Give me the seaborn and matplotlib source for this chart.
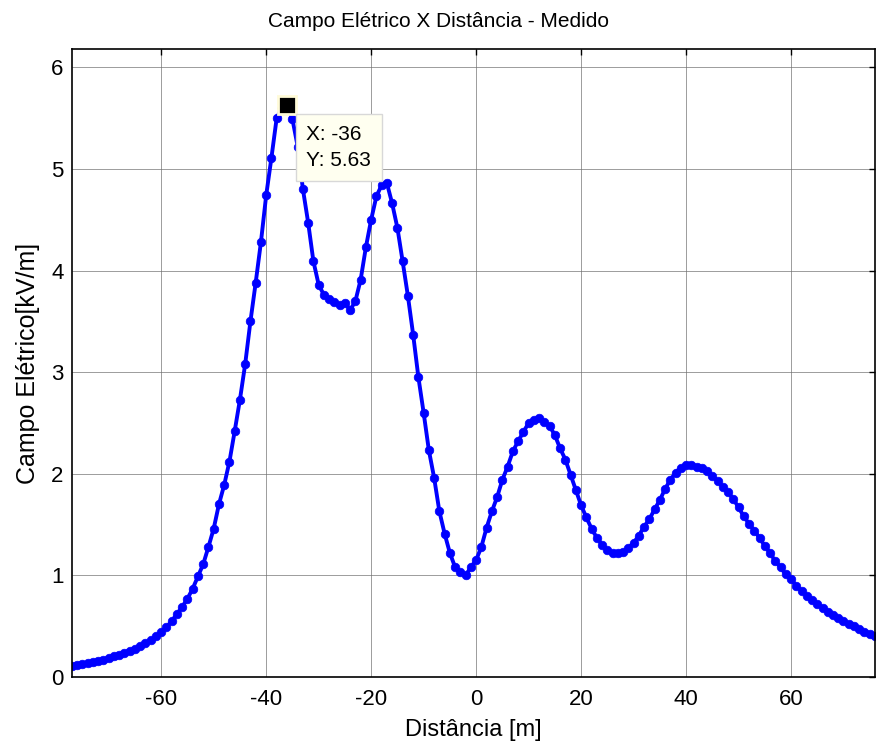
import numpy as np
import pandas as pd
import seaborn as sns
import matplotlib.pyplot as plt

# Measured electric field profile along the transverse distance
distancia = list(range(-77, 77))
campo = [
    0.11, 0.12, 0.13, 0.14, 0.15, 0.16, 0.17, 0.19, 0.21, 0.22,   # -77 .. -68
    0.24, 0.26, 0.28, 0.30, 0.33, 0.36, 0.40, 0.44, 0.49, 0.55,   # -67 .. -58
    0.62, 0.69, 0.77, 0.87, 0.99, 1.11, 1.28, 1.46, 1.70, 1.89,   # -57 .. -48
    2.12, 2.42, 2.73, 3.08, 3.50, 3.88, 4.28, 4.74, 5.11, 5.50,   # -47 .. -38
    5.60, 5.63, 5.49, 5.22, 4.80, 4.47, 4.09, 3.86, 3.76, 3.72,   # -37 .. -28
    3.69, 3.66, 3.68, 3.61, 3.70, 3.91, 4.23, 4.50, 4.73, 4.84,   # -27 .. -18
    4.86, 4.66, 4.42, 4.09, 3.75, 3.37, 2.95, 2.60, 2.23, 1.96,   # -17 .. -8
    1.63, 1.41, 1.22, 1.08, 1.03, 1.00, 1.08, 1.15, 1.28, 1.47,   # -7 .. 2
    1.63, 1.77, 1.94, 2.07, 2.22, 2.32, 2.41, 2.50, 2.53, 2.55,   # 3 .. 12
    2.51, 2.47, 2.38, 2.25, 2.14, 1.99, 1.84, 1.69, 1.57, 1.46,   # 13 .. 22
    1.37, 1.30, 1.25, 1.22, 1.22, 1.23, 1.27, 1.32, 1.39, 1.48,   # 23 .. 32
    1.55, 1.65, 1.74, 1.85, 1.94, 2.01, 2.06, 2.09, 2.09, 2.07,   # 33 .. 42
    2.06, 2.03, 1.98, 1.93, 1.87, 1.82, 1.75, 1.67, 1.58, 1.51,   # 43 .. 52
    1.44, 1.37, 1.29, 1.22, 1.14, 1.08, 1.01, 0.96, 0.90, 0.85,   # 53 .. 62
    0.80, 0.76, 0.72, 0.68, 0.64, 0.61, 0.58, 0.55, 0.52, 0.50,   # 63 .. 72
    0.47, 0.44, 0.42, 0.40,                                       # 73 .. 76
]
x_ticks = [-60, -40, -20, 0, 20, 40, 60]
y_ticks = [0, 1, 2, 3, 4, 5, 6]
tip_x, tip_y = -36, 5.63

df = pd.DataFrame({"Distância": distancia, "Campo": campo})

sns.set_style("white")
plt.rcParams["font.family"] = ["Liberation Sans", "DejaVu Sans"]
plt.rcParams["axes.unicode_minus"] = False
plt.rcParams["text.color"] = "black"
plt.rcParams["axes.labelcolor"] = "black"

fig = plt.figure(figsize=(8.77, 7.41), dpi=100)
ax = fig.add_axes([0.0821, 0.0864, 0.9156, 0.8475])

sns.lineplot(data=df, x="Distância", y="Campo", ax=ax, color="#0000ff",
             linewidth=2.8, marker="o", markersize=6.2, markeredgewidth=0.5,
             markeredgecolor="#0000ff", markerfacecolor="#0000ff")

ax.set_xlim(-77, 76)
ax.set_ylim(0, 6.18)
ax.set_xticks(x_ticks)
ax.set_yticks(y_ticks)
ax.set_xticklabels([str(v) for v in x_ticks])
ax.set_yticklabels([str(v) for v in y_ticks])
ax.tick_params(axis="both", direction="in", length=4, width=1, labelsize=16,
               top=True, right=True, colors="black")
ax.tick_params(axis="x", pad=9)
ax.tick_params(axis="y", pad=6)
ax.grid(True, color="#707070", linewidth=0.6, alpha=0.8)
for sp in ax.spines.values():
    sp.set_color("black")
    sp.set_linewidth(1.2)

# title centred on the figure width
ax.set_title("Campo Elétrico X Distância - Medido", fontsize=15, pad=16,
             color="black", x=0.456)
ax.set_xlabel("Distância [m]", fontsize=17, labelpad=6)
ax.set_ylabel("Campo Elétrico[kV/m]", fontsize=18, labelpad=8)

# data tip on the peak
ax.plot([tip_x], [tip_y], marker="s", markersize=13, color="black",
        markeredgecolor="#fffbd8", markeredgewidth=2, zorder=5)
ax.annotate(f"X: {tip_x}\nY: {tip_y}", xy=(tip_x, tip_y),
            xytext=(13.8, -14.2), textcoords="offset points",
            ha="left", va="top", fontsize=15, linespacing=1.5,
            bbox=dict(boxstyle="square,pad=0.5", fc="#fffff0",
                      ec="#d8d8d8", lw=1),
            zorder=6)

fig.savefig("out.png", dpi=100, facecolor="white")
